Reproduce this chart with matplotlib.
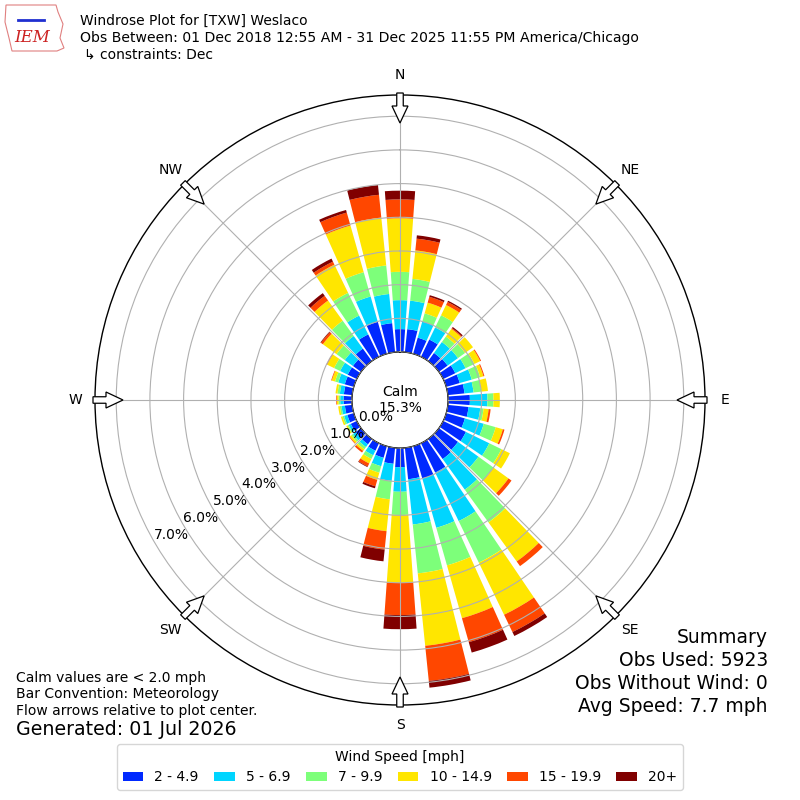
import numpy as np
import matplotlib
matplotlib.use("Agg")
import matplotlib.pyplot as plt
from matplotlib.patches import Circle, FancyArrow, Patch, Polygon

# direction bins (degrees, meteorological) and percent of obs per speed bin
directions = np.arange(0, 360, 10)
speed_labels = ["2 - 4.9", "5 - 6.9", "7 - 9.9", "10 - 14.9", "15 - 19.9", "20+"]

spd_2_5 = [0.68, 0.69, 0.50, 0.57, 0.30, 0.32, 0.40, 0.42, 0.50, 0.65,
           0.62, 0.58, 0.75, 0.70, 0.74, 0.97, 1.00, 0.94, 0.57, 0.48,
           0.36, 0.25, 0.20, 0.20, 0.20, 0.20, 0.22, 0.25, 0.25, 0.28,
           0.30, 0.30, 0.46, 0.74, 0.99, 0.87]
spd_5_7 = [0.86, 0.85, 0.50, 0.40, 0.40, 0.38, 0.34, 0.37, 0.27, 0.52,
           0.35, 0.58, 0.77, 0.75, 1.12, 1.60, 1.52, 1.35, 0.73, 0.51,
           0.26, 0.15, 0.10, 0.10, 0.07, 0.10, 0.10, 0.10, 0.12, 0.20,
           0.25, 0.30, 0.46, 0.62, 0.78, 0.87]
spd_7_10 = [0.84, 0.65, 0.25, 0.40, 0.20, 0.26, 0.29, 0.26, 0.23, 0.18,
            0.10, 0.37, 0.40, 0.55, 1.20, 1.37, 1.16, 1.46, 0.69, 0.55,
            0.20, 0.12, 0.08, 0.06, 0.04, 0.05, 0.05, 0.05, 0.07, 0.10,
            0.20, 0.30, 0.56, 0.75, 0.75, 0.85]
spd_10_15 = [1.59, 0.85, 0.33, 0.34, 0.28, 0.29, 0.19, 0.10, 0.20, 0.19,
             0.15, 0.22, 0.28, 0.55, 1.43, 1.72, 1.63, 2.16, 2.02, 0.95,
             0.22, 0.15, 0.06, 0.06, 0.04, 0.05, 0.05, 0.05, 0.06, 0.10,
             0.23, 0.50, 0.74, 0.93, 1.44, 1.43]
spd_15_20 = [0.56, 0.35, 0.18, 0.10, 0.03, 0.00, 0.03, 0.03, 0.00, 0.00,
             0.06, 0.05, 0.00, 0.11, 0.17, 0.57, 0.74, 1.05, 0.95, 0.55,
             0.20, 0.10, 0.06, 0.02, 0.00, 0.00, 0.00, 0.02, 0.00, 0.02,
             0.02, 0.07, 0.17, 0.10, 0.40, 0.68]
spd_20p = [0.26, 0.10, 0.05, 0.04, 0.04, 0.00, 0.00, 0.00, 0.00, 0.00,
           0.00, 0.00, 0.00, 0.00, 0.00, 0.13, 0.32, 0.20, 0.42, 0.35,
           0.06, 0.02, 0.00, 0.00, 0.00, 0.00, 0.00, 0.00, 0.00, 0.00,
           0.00, 0.02, 0.10, 0.10, 0.08, 0.29]
speed_bins = [spd_2_5, spd_5_7, spd_7_10, spd_10_15, spd_15_20, spd_20p]

calm_pct = 15.3
rgrid_vals = np.arange(0, 8)
compass = ["N", "NE", "E", "SE", "S", "SW", "W", "NW"]

W = H = 800
fig = plt.figure(figsize=(8, 8), dpi=100)
ax = fig.add_axes([0.11875, 0.11875, 0.7625, 0.7625], projection="polar")
ax.set_theta_zero_location("N")
ax.set_theta_direction(-1)

theta = np.deg2rad(directions)
colors = plt.cm.jet(np.linspace(0, 1, 7)[1:])
bottom = np.zeros(len(directions))
for vals, color, lbl in zip(speed_bins, colors, speed_labels):
    ax.bar(theta, vals, width=np.deg2rad(8.3), bottom=bottom, color=color,
           linewidth=0, zorder=1)
    bottom = bottom + np.array(vals)

ax.set_rorigin(-1.424)
ax.set_ylim(0, 7.63)
ax.set_rgrids(rgrid_vals, labels=[f"{v:.1f}%" for v in rgrid_vals], angle=240,
              fontsize=10)
ax.set_thetagrids(np.arange(0, 360, 45), labels=[""] * 8)
ax.grid(True, color="#b0b0b0", lw=0.8)
ax.set_axisbelow(False)
ax.spines["polar"].set_linewidth(1.0)

pos = ax.get_position()
R_px = pos.width / 2 * W
hole = Circle((0.5, 0.5), 48 / (2 * R_px), transform=ax.transAxes,
              fc="white", ec="black", lw=1.0, zorder=2)
ax.add_patch(hole)
ax.text(0.5, 0.5, f"Calm\n{calm_pct:.1f}%", transform=ax.transAxes,
        ha="center", va="center", fontsize=10, zorder=3)

# overlay in pixel units for arrows, labels and logo
ov = fig.add_axes([0, 0, 1, 1], zorder=5)
ov.set_xlim(0, W)
ov.set_ylim(0, H)
ov.axis("off")
cx = (pos.x0 + pos.x1) / 2 * W
cy = (pos.y0 + pos.y1) / 2 * H
for i, name in enumerate(compass):
    a = np.deg2rad(i * 45)
    ux, uy = np.sin(a), np.cos(a)
    ov.add_patch(FancyArrow(cx + ux * (R_px + 2), cy + uy * (R_px + 2),
                            -ux * 30, -uy * 30, width=6.5, head_width=16,
                            head_length=17, length_includes_head=True,
                            fc="white", ec="black", lw=0.9))
    ov.text(cx + ux * (R_px + 20), cy + uy * (R_px + 20), name,
            ha="center", va="center", fontsize=10)

# logo
ov.add_patch(Polygon([(6, 795), (56, 795), (58, 788), (63, 776), (60, 762),
                      (64, 752), (57, 749), (12, 749), (9, 762), (5, 778)],
                     closed=True, fill=False, ec="#e08080", lw=0.8))
ov.text(32, 762, "IEM", color="#cc2222", fontsize=12, fontstyle="italic",
        family="DejaVu Serif", ha="center", va="center")
ov.plot([18, 44], [780, 780], color="#1f2fd0", lw=2)

fig.text(80 / W, 1 - 25 / H, "Windrose Plot for [TXW] Weslaco", fontsize=10,
         va="baseline")
fig.text(80 / W, 1 - 42 / H,
         "Obs Between: 01 Dec 2018 12:55 AM - 31 Dec 2025 11:55 PM America/Chicago",
         fontsize=10.1, va="baseline")
fig.text(84 / W, 1 - 59 / H, "\u21b3 constraints: Dec", fontsize=10,
         va="baseline")

fig.text(16 / W, 1 - 682 / H, "Calm values are < 2.0 mph", fontsize=10,
         va="baseline")
fig.text(16 / W, 1 - 698 / H, "Bar Convention: Meteorology", fontsize=10,
         va="baseline")
fig.text(16 / W, 1 - 715 / H, "Flow arrows relative to plot center.",
         fontsize=10, va="baseline")
fig.text(16 / W, 1 - 735 / H, "Generated: 01 Jul 2026", fontsize=13.7,
         va="baseline")

summary = ["Summary", "Obs Used: 5923", "Obs Without Wind: 0",
           "Avg Speed: 7.7 mph"]
for j, line in enumerate(summary):
    fig.text(768 / W, 1 - (643 + 23 * j) / H, line, fontsize=13.5,
             ha="right", va="baseline")

handles = [Patch(fc=c) for c in colors]
fig.legend(handles, speed_labels, loc="lower center",
           bbox_to_anchor=(0.5, 10 / H), borderaxespad=0, ncol=6,
           title="Wind Speed [mph]", fontsize=10, title_fontsize=10,
           handlelength=1.5, handleheight=0.6, columnspacing=1.1)

fig.savefig("out.png", dpi=100)
